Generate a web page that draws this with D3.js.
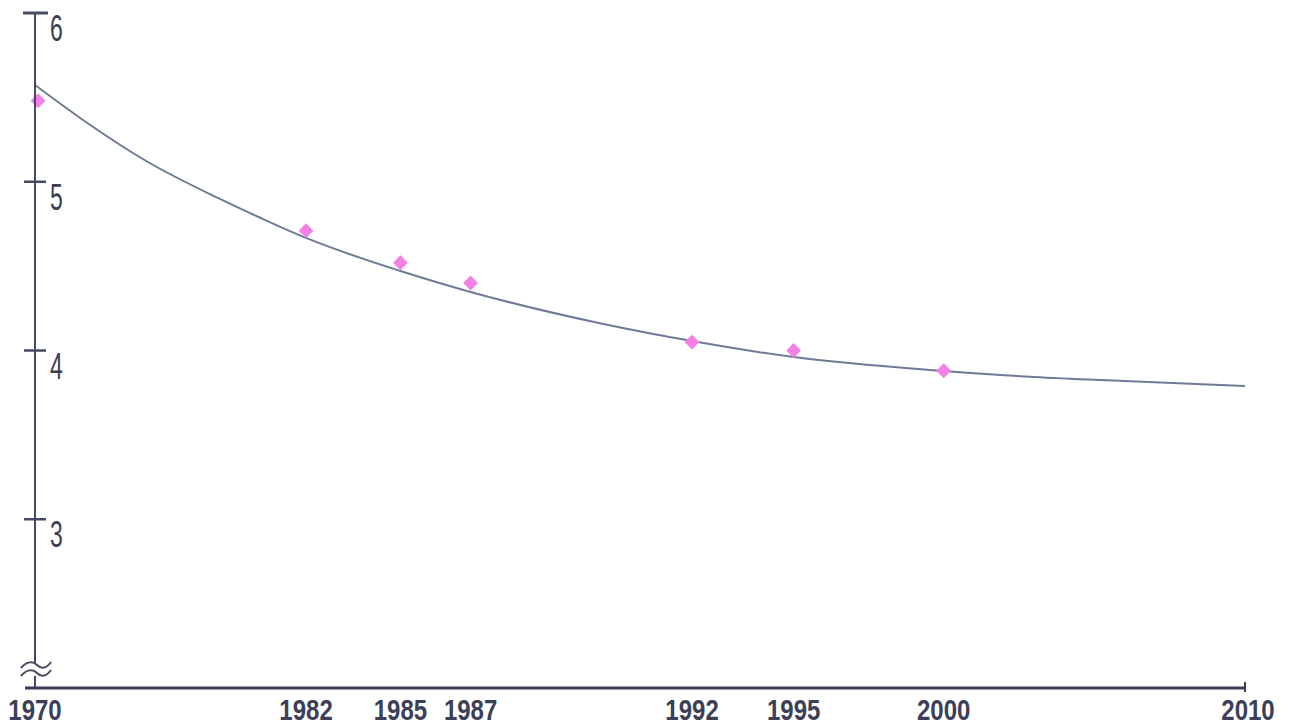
<!DOCTYPE html>
<html>
<head>
<meta charset="utf-8">
<script src="https://cdn.jsdelivr.net/npm/d3@7"></script>
<style>
  body { margin: 0; background: #fff; }
  svg { display: block; }
</style>
</head>
<body>
<svg id="chart" width="1289" height="726"></svg>
<script>
// labelled years on the x axis
var tickYears = [1970, 1982, 1985, 1987, 1992, 1995, 2000, 2010];
// y axis ticks
var yTicks = [3, 4, 5, 6];

// observed points (pink)
var pointYears  = [1970, 1982, 1985, 1987, 1992, 1995, 2000];
var pointValues = [5.48, 4.71, 4.52, 4.40, 4.05, 4.00, 3.88];

// fitted curve
var curveYears  = [1970, 1972, 1975, 1978, 1980, 1982, 1985, 1987, 1990, 1992, 1995, 2000, 2003, 2006, 2010];
var curveValues = [5.573, 5.378, 5.117, 4.91, 4.785, 4.667, 4.471, 4.347, 4.157, 4.056, 3.961, 3.879, 3.843, 3.819, 3.79];

// the original axis is not evenly spaced: fraction of axis length at each labelled year
var tickFrac = [0, 0.224, 0.302, 0.360, 0.543, 0.627, 0.751, 1];

var plotLeft = 35, plotRight = 1245, plotTop = 13, plotBottom = 688;
var axisColor = "#464a63";
var svg = d3.select("#chart");

var x = d3.scaleLinear()
  .domain(tickYears)
  .range(tickFrac.map(f => plotLeft + f * (plotRight - plotLeft)));

var y = d3.scaleLinear().domain([2, 6]).range([plotBottom, plotTop]);

// curve
var line = d3.line()
  .x((d, i) => x(curveYears[i]))
  .y(d => y(d))
  .curve(d3.curveMonotoneX);

svg.append("path")
  .datum(curveValues)
  .attr("d", line)
  .attr("fill", "none")
  .attr("stroke", "#6f7b96")
  .attr("stroke-width", 2);

// points
svg.append("g")
  .selectAll("path")
  .data(pointValues)
  .enter()
  .append("path")
  .attr("transform", (d, i) => "translate(" + (x(pointYears[i]) + (i == 0 ? 3 : 0)) + "," + y(d) + ")")
  .attr("d", d3.symbol().type(d3.symbolDiamond2).size(140))
  .attr("fill", "#f480e6");

// y axis line with break
svg.append("line")
  .attr("x1", plotLeft).attr("x2", plotLeft)
  .attr("y1", plotTop).attr("y2", 664)
  .attr("stroke", axisColor).attr("stroke-width", 2);
svg.append("line")
  .attr("x1", plotLeft).attr("x2", plotLeft)
  .attr("y1", 676).attr("y2", plotBottom)
  .attr("stroke", axisColor).attr("stroke-width", 2);

// break symbol
[665, 673].forEach(function(by) {
  svg.append("path")
    .attr("d", "M21," + (by + 3) + " C27," + (by - 4) + " 33," + (by - 4) + " 37," + by +
               " S46," + (by + 4) + " 51," + (by - 3))
    .attr("fill", "none")
    .attr("stroke", axisColor)
    .attr("stroke-width", 2);
});

// y ticks
svg.append("g")
  .selectAll("line")
  .data(yTicks)
  .enter()
  .append("line")
  .attr("x1", d => d == 6 ? 23 : 24)
  .attr("x2", d => d == 6 ? 48 : 46)
  .attr("y1", d => y(d)).attr("y2", d => y(d))
  .attr("stroke", axisColor)
  .attr("stroke-width", d => d == 6 ? 3 : 2.5);

svg.append("g")
  .selectAll("text")
  .data(yTicks)
  .enter()
  .append("text")
  .attr("transform", d => "translate(50," + (y(d) + 28) + ") scale(0.62,1)")
  .text(d => d)
  .style("font-family", "'Liberation Sans', Arial, sans-serif")
  .style("font-size", "37px")
  .style("fill", "#3b3d52");

// x axis
svg.append("line")
  .attr("x1", 25).attr("x2", plotRight)
  .attr("y1", plotBottom).attr("y2", plotBottom)
  .attr("stroke", "#3c3f5c").attr("stroke-width", 3);
svg.append("line")
  .attr("x1", plotRight).attr("x2", plotRight)
  .attr("y1", plotBottom - 6).attr("y2", plotBottom + 4)
  .attr("stroke", "#3c3f5c").attr("stroke-width", 2);

svg.append("g")
  .selectAll("text")
  .data(tickYears)
  .enter()
  .append("text")
  .attr("transform", d => "translate(" + (x(d) + (d == 2010 ? 3 : 0)) + ",720) scale(0.8,1)")
  .attr("text-anchor", "middle")
  .text(d => d)
  .style("font-family", "'Liberation Sans', Arial, sans-serif")
  .style("font-weight", "bold")
  .style("font-size", "30px")
  .style("fill", "#3d3f58");
</script>
</body>
</html>
